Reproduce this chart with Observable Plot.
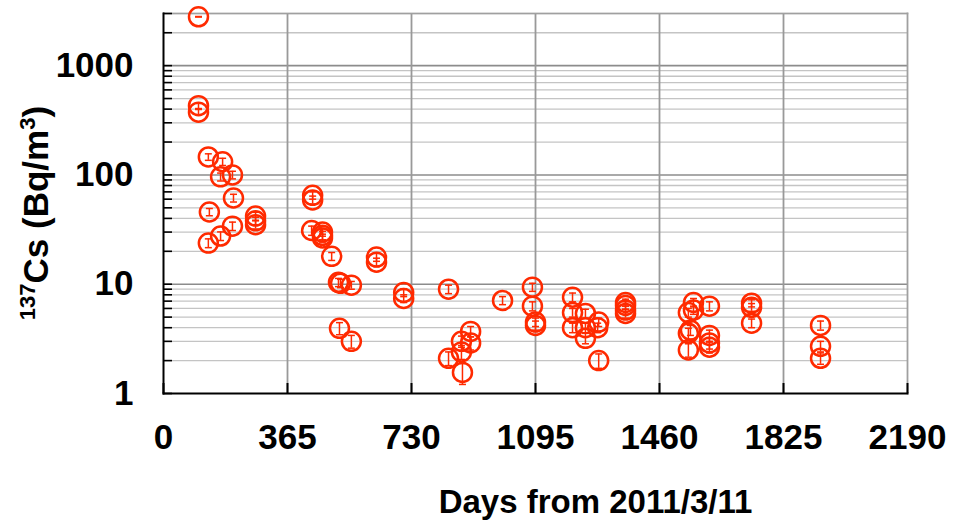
<!DOCTYPE html>
<html><head><meta charset="utf-8">
<script src="https://cdn.jsdelivr.net/npm/d3@7"></script>
<script src="https://cdn.jsdelivr.net/npm/@observablehq/plot@0.6"></script>
<style>
body{margin:0;background:#fff}
svg{font-family:"Liberation Sans",Arial,Helvetica,sans-serif}
</style>
</head><body><div id="chart"></div>
<script>
// Days after 2011/3/11
const days = [103,103,103,132,135,174,168,168,132,203,206,203,271,271,271,
  439,439,436,468,468,468,495,515,521,553,518,553,627,627,707,707,
  839,839,877,877,880,904,904,998,1086,1086,1095,1095,
  1204,1204,1204,1242,1242,1242,1281,1278,1281,1360,1360,1360,1360,
  1560,1607,1545,1560,1551,1545,1607,1607,1545,1607,1731,1731,1731,1934,1934,1934];
// 137Cs concentration (Bq/m3)
const cs = [2800,430,375,146,45.8,132,96,27.6,23.8,100,61.5,34,42,38,35,
  65,59,31,30,28,26.5,18,10.4,10.2,9.8,3.95,3.0,17.7,15.9,8.4,7.4,
  9.0,2.1,3.0,2.4,1.56,3.7,2.9,7.1,9.4,6.3,4.5,4.2,
  7.6,5.5,4.0,5.4,4.0,3.2,4.5,4.0,2.0,6.8,6.4,5.8,5.4,
  6.8,6.3,5.5,5.8,3.8,3.55,3.4,2.9,2.5,2.65,6.7,6.15,4.4,4.2,2.7,2.1];
// uncertainty (half error bar)
const errs = [15,25,22,10,3.5,10,8,2.5,2.2,8,5,3,3.5,3,3,
  5,5,3,2.5,2.5,2.2,1.5,0.9,0.9,0.8,0.5,0.4,1.5,1.4,0.7,0.6,
  0.8,0.3,0.35,0.35,0.35,0.4,0.4,0.6,0.8,0.6,0.4,0.4,
  0.7,0.5,0.4,0.5,0.4,0.35,0.4,0.4,0.3,0.5,0.5,0.5,0.5,
  0.6,0.6,0.5,0.5,0.4,0.4,0.4,0.35,0.35,0.3,0.5,0.5,0.4,0.4,0.3,0.25];

const xTicks = [0,365,730,1095,1460,1825,2190];
const yMajor = [1,10,100,1000];
const yMinor = [2,3,4,5,6,7,8,9,20,30,40,50,60,70,80,90,200,300,400,500,600,700,800,900,2000,3000];
const xTitle = "Days from 2011/3/11";
const yLabelParts = ["137","Cs (Bq/m","3",")"];

const red = "#ff2a00";
const data = days.map((d,i)=>({d, v: cs[i], e: errs[i]}));
const hline = {draw(ctx,size){const r=Math.sqrt(size/Math.PI); ctx.moveTo(-r,0); ctx.lineTo(r,0);}};

const chart = Plot.plot({
  width: 965, height: 521,
  marginLeft: 163, marginRight: 58, marginTop: 13, marginBottom: 128,
  x: {domain:[0,2190], label:null},
  y: {type:"log", domain:[1,3000], label:null},
  style: {background:"white", fontFamily:'"Liberation Sans",Arial,Helvetica,sans-serif', color:"#000"},
  marks: [
    Plot.gridY(yMinor, {stroke:"#c4c4c4", strokeOpacity:1, strokeWidth:1.3}),
    Plot.gridY(yMajor.slice(1), {stroke:"#8c8c8c", strokeOpacity:1, strokeWidth:1.6}),
    Plot.gridX(xTicks.slice(1,-1), {stroke:"#999", strokeOpacity:1, strokeWidth:1.8}),
    Plot.frame({anchor:"top", stroke:"#a0a0a0", strokeWidth:1.5}),
    Plot.frame({anchor:"right", stroke:"#a0a0a0", strokeWidth:1.8}),
    Plot.axisY({ticks:[...yMajor,...yMinor], tickSize:-9, tickFormat:()=>"", stroke:"#000", strokeWidth:1.6}),
    Plot.axisY({ticks:yMajor, tickSize:0, tickPadding:30, tickFormat:d=>String(d), fontSize:35, fontWeight:"bold", fill:"#000"}),
    Plot.axisX({ticks:xTicks, tickSize:-10, tickFormat:()=>"", stroke:"#000", strokeWidth:2}),
    Plot.axisX({ticks:xTicks, tickSize:0, tickPadding:31, tickFormat:d=>String(d), fontSize:35, fontWeight:"bold", fill:"#000"}),
    Plot.ruleX(data, {x:"d", y1:d=>d.v-d.e, y2:d=>d.v+d.e, stroke:red, strokeWidth:1.5}),
    Plot.dot(data, {x:"d", y:d=>d.v-d.e, symbol:hline, r:3.5, stroke:red, strokeWidth:1.5}),
    Plot.dot(data, {x:"d", y:d=>d.v+d.e, symbol:hline, r:3.5, stroke:red, strokeWidth:1.5}),
    Plot.dot(data, {x:"d", y:"v", r:9.5, stroke:red, strokeWidth:2.5, fill:"none"}),
    Plot.frame({anchor:"left", stroke:"#000", strokeWidth:2}),
    Plot.frame({anchor:"bottom", stroke:"#000", strokeWidth:2}),
    Plot.text([xTitle], {frameAnchor:"bottom", text:d=>d, dx:60, dy:119, lineAnchor:"bottom", fontSize:33, fontWeight:"bold", fill:"#000"})
  ]
});
document.getElementById("chart").appendChild(chart);

// Y-axis title with superscripts
const t = d3.select(chart).append("text")
  .attr("transform","translate(48,213) rotate(-90)")
  .attr("text-anchor","middle")
  .attr("font-size",35).attr("font-weight","bold").attr("fill","#000");
t.append("tspan").attr("font-size",22).attr("dy",-13).text(yLabelParts[0]);
t.append("tspan").attr("dy",13).text(yLabelParts[1]);
t.append("tspan").attr("font-size",22).attr("dy",-13).text(yLabelParts[2]);
t.append("tspan").attr("dy",13).text(yLabelParts[3]);
</script>
</body></html>
